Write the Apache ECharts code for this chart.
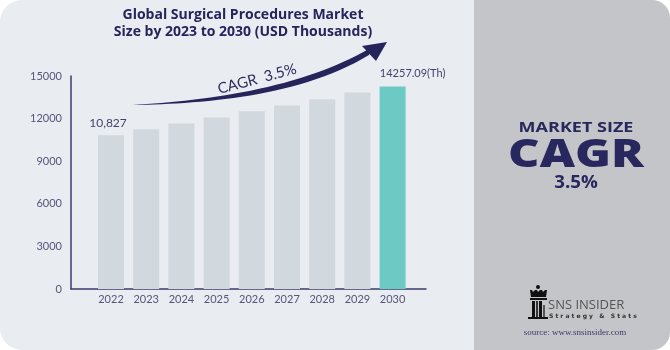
<!DOCTYPE html>
<html>
<head>
<meta charset="utf-8">
<script src="https://cdn.jsdelivr.net/npm/echarts@6/dist/echarts.min.js"></script>
<style>
html,body{margin:0;padding:0;background:#fff;}
#main{width:670px;height:350px;}
</style>
</head>
<body>
<div id="main"></div>
<script>
var years = ['2022','2023','2024','2025','2026','2027','2028','2029','2030'];
var marketSize = [10827, 11250, 11660, 12080, 12520, 12930, 13370, 13830, 14257.09];
var yTicks = [0, 3000, 6000, 9000, 12000, 15000];

var chart = echarts.init(document.getElementById('main'));
var navy = '#25255c';
var font = 'Lato';

// swoosh outline: two cubic curves sampled into a polygon
function bez(p0, p1, p2, p3, n) {
	var pts = [];
	for (var i = 0; i <= n; i++) {
		var t = i / n, u = 1 - t;
		pts.push([
			u*u*u*p0[0] + 3*u*u*t*p1[0] + 3*u*t*t*p2[0] + t*t*t*p3[0],
			u*u*u*p0[1] + 3*u*u*t*p1[1] + 3*u*t*t*p2[1] + t*t*t*p3[1]
		]);
	}
	return pts;
}
var lower = bez([133,105], [200,104], [300,97], [369,55], 30);
var upper = bez([372,47], [300,90], [200,101], [133,105], 30);
var swoosh = lower.concat(upper);

var option = {
	backgroundColor: '#ffffff',
	animation: false,
	title: {
		text: 'Global Surgical Procedures Market\nSize by 2023 to 2030 (USD Thousands)',
		left: 238,
		textAlign: 'center',
		top: 2,
		textStyle: {color: navy, fontSize: 14, fontWeight: 'bold', fontFamily: 'Open Sans', lineHeight: 17}
	},
	grid: [
		{left: 71, right: 244, top: 76, bottom: 61},
		{left: 93.4, right: 259.8, top: 76, bottom: 61}
	],
	xAxis: [
		{gridIndex: 0, type: 'value', min: 0, max: 1, axisLine: {lineStyle: {color: '#3b3b6b', width: 1.5}}, axisTick: {show: false}, axisLabel: {show: false}, splitLine: {show: false}},
		{gridIndex: 1, type: 'category', data: years, axisLine: {show: false}, axisTick: {show: false},
			axisLabel: {color: '#55557a', fontSize: 11, fontFamily: font, margin: 5}}
	],
	yAxis: [
		{gridIndex: 0, type: 'value', min: 0, max: 15000, interval: 3000,
			axisLine: {show: true, lineStyle: {color: '#3b3b6b', width: 1.5}}, axisTick: {show: false}, splitLine: {show: false},
			axisLabel: {color: '#55557a', fontSize: 11, fontFamily: font, margin: 9,
				formatter: function (v) { return yTicks.indexOf(v) >= 0 ? String(v) : ''; }}},
		{gridIndex: 1, type: 'value', min: 0, max: 15000, show: false}
	],
	series: [{
		type: 'bar',
		xAxisIndex: 1,
		yAxisIndex: 1,
		barWidth: 26,
		data: marketSize.map(function (v, i) {
			var item = {value: v, itemStyle: {color: i === marketSize.length - 1 ? '#6cc9c4' : '#d1d8de'}};
			if (i === 0) {
				item.label = {show: true, position: 'top', offset: [-3, -1], formatter: '10,827', color: '#44446a', fontSize: 12, fontFamily: font};
			}
			if (i === marketSize.length - 1) {
				item.label = {show: true, position: 'top', offset: [20, -3], formatter: '{c}(Th)', color: '#44446a', fontSize: 11, fontFamily: font};
			}
			return item;
		})
	}],
	graphic: [
		{type: 'rect', z: -10, silent: true, shape: {x: 0, y: 0, width: 500, height: 350, r: [22, 0, 0, 22]}, style: {fill: '#e9ecf1'}},
		{type: 'rect', z: -9, silent: true, shape: {x: 474, y: 0, width: 196, height: 350, r: [0, 18, 18, 0]}, style: {fill: '#c4c5c8'}},
		// growth arrow
		{type: 'polygon', z: 5, silent: true, shape: {points: swoosh}, style: {fill: navy}},
		{type: 'polygon', z: 5, silent: true, shape: {points: [[387, 42], [362, 46], [376, 61]]}, style: {fill: navy}},
		{type: 'text', z: 5, silent: true, x: 257, y: 79, rotation: 0.26,
			style: {text: 'CAGR  3.5%', fill: '#2d2d5e', fontSize: 15, fontFamily: font, align: 'center', verticalAlign: 'middle'}},
		// right panel
		{type: 'text', z: 5, x: 576, y: 128, scaleX: 1.2, style: {text: 'MARKET SIZE', fill: '#28285e', fontSize: 15, fontWeight: 'bold', fontFamily: 'Open Sans', align: 'center', verticalAlign: 'middle'}},
		{type: 'text', z: 5, x: 576, y: 156, scaleX: 1.28, style: {text: 'CAGR', fill: '#28285e', fontSize: 38, fontWeight: 900, fontFamily: 'Open Sans', align: 'center', verticalAlign: 'middle'}},
		{type: 'text', z: 5, x: 576, y: 183, scaleX: 1.1, style: {text: '3.5%', fill: '#28285e', fontSize: 17, fontWeight: 'bold', fontFamily: 'Open Sans', align: 'center', verticalAlign: 'middle'}},
		// logo
		{type: 'group', z: 5, children: [
			{type: 'circle', shape: {cx: 538, cy: 287, r: 2}, style: {fill: '#111'}},
			{type: 'polygon', shape: {points: [[530, 290], [532, 290], [533, 292], [535, 290], [537, 290], [538, 292], [540, 290], [542, 290], [543, 292], [545, 290], [547, 290], [546, 297], [531, 297]]}, style: {fill: '#111'}},
			{type: 'rect', shape: {x: 530, y: 298, width: 17, height: 2}, style: {fill: '#111'}},
			{type: 'rect', shape: {x: 532, y: 301, width: 3, height: 17}, style: {fill: '#111'}},
			{type: 'rect', shape: {x: 536, y: 301, width: 2, height: 17}, style: {fill: '#333'}},
			{type: 'rect', shape: {x: 539, y: 301, width: 3, height: 17}, style: {fill: '#111'}},
			{type: 'rect', shape: {x: 543, y: 305, width: 2, height: 13}, style: {fill: '#555'}},
			{type: 'rect', shape: {x: 528, y: 317, width: 20, height: 2}, style: {fill: '#111'}}
		]},
		{type: 'text', z: 5, x: 548, y: 305, style: {text: 'SNS INSIDER', fill: '#555555', fontSize: 13, fontFamily: 'Open Sans', verticalAlign: 'middle'}},
		{type: 'text', z: 5, x: 549, y: 316, style: {text: 'S t r a t e g y   &   S t a t s', fill: '#333333', fontSize: 6, fontWeight: 'bold', fontFamily: 'DejaVu Sans', verticalAlign: 'middle'}},
		{type: 'text', z: 5, x: 575, y: 333, style: {text: 'source: www.snsinsider.com', fill: '#3a3a6a', fontSize: 9, fontFamily: 'Liberation Serif', align: 'center', verticalAlign: 'middle'}}
	]
};
chart.setOption(option);
</script>
</body>
</html>
